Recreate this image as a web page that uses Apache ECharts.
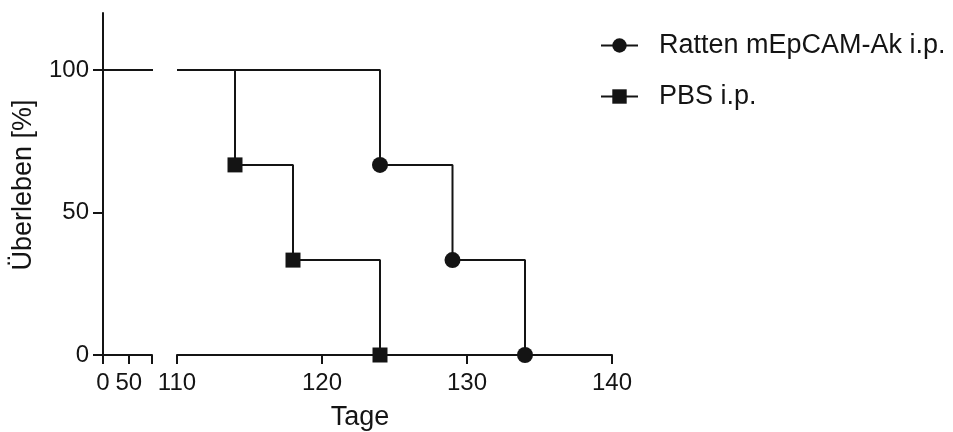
<!DOCTYPE html>
<html>
<head>
<meta charset="utf-8">
<script src="https://cdn.jsdelivr.net/npm/echarts@6/dist/echarts.min.js"></script>
<style>
  html, body { margin: 0; padding: 0; background: #fff; }
  #main { width: 953px; height: 432px; }
</style>
</head>
<body>
<div id="main"></div>
<script>
// Kaplan-Meier: Überleben [%] über Tage, x-Achse unterbrochen
var names = ['Ratten mEpCAM-Ak i.p.', 'PBS i.p.'];
var ratDays = [124, 129, 134];
var ratSurv = [66.7, 33.3, 0];
var pbsDays = [114, 118, 124];
var pbsSurv = [66.7, 33.3, 0];
var startDay = 110;
var leftRange = [0, 95];
var rightRange = [110, 140];
var yTicks = [0, 50, 100];
var xTicksLeft = [0, 50];
var xTicksRight = [110, 120, 130, 140];

var font = 'Liberation Sans';
var ink = '#141414';

function steps(days, surv) {
    var d = [{ value: [startDay, 100], symbol: 'none' }];
    for (var i = 0; i < days.length; i++) d.push([days[i], surv[i]]);
    return d;
}

var myChart = echarts.init(document.getElementById('main'));

var yBase = {
    type: 'value', min: 0, max: 120,
    splitLine: { show: false }
};

option = {
    animation: false,
    textStyle: { fontFamily: font, color: ink },
    grid: [
        { left: 103, top: 13, width: 49, bottom: 77 },
        { left: 177, top: 13, right: 341, bottom: 77 }
    ],
    xAxis: [
        {
            gridIndex: 0, type: 'value', min: leftRange[0], max: leftRange[1],
            axisLine: { lineStyle: { color: ink, width: 2 } },
            axisTick: { length: 9, lineStyle: { width: 2 }, customValues: xTicksLeft.concat([leftRange[1]]) },
            axisLabel: { customValues: xTicksLeft, fontSize: 24, color: ink, margin: 16 },
            splitLine: { show: false }
        },
        {
            gridIndex: 1, type: 'value', min: rightRange[0], max: rightRange[1],
            axisLine: { lineStyle: { color: ink, width: 2 } },
            axisTick: { length: 9, lineStyle: { width: 2 }, customValues: xTicksRight },
            axisLabel: { customValues: xTicksRight, fontSize: 24, color: ink, margin: 16 },
            splitLine: { show: false }
        }
    ],
    yAxis: [
        Object.assign({}, yBase, {
            gridIndex: 0,
            axisLine: { show: true, lineStyle: { color: ink, width: 2 } },
            axisTick: { show: true, length: 10, lineStyle: { width: 2 }, customValues: yTicks },
            axisLabel: { customValues: yTicks, fontSize: 24, color: ink, margin: 14 }
        }),
        Object.assign({}, yBase, {
            gridIndex: 1, show: false
        })
    ],
    legend: {
        orient: 'vertical',
        left: 595, top: 27,
        itemWidth: 37, itemHeight: 18,
        itemGap: 24,
        data: names,
        textStyle: { fontSize: 27, color: ink, fontFamily: font, padding: [0, 0, 0, 16] }
    },
    graphic: [
        {
            type: 'text', x: 360, y: 418,
            style: { text: 'Tage', font: '27px ' + font, fill: ink, align: 'center', verticalAlign: 'middle' }
        },
        {
            type: 'text', x: 24, y: 185, rotation: Math.PI / 2,
            style: { text: 'Überleben [%]', font: '27px ' + font, fill: ink, align: 'center', verticalAlign: 'middle' }
        }
    ],
    series: [
        {
            name: 'start', type: 'line', xAxisIndex: 0, yAxisIndex: 0,
            showSymbol: false, symbol: 'none',
            lineStyle: { color: ink, width: 2 },
            data: [[leftRange[0], 100], [leftRange[1] + 6, 100]],
            clip: false
        },
        {
            name: names[0], type: 'line', xAxisIndex: 1, yAxisIndex: 1,
            step: 'end', symbol: 'circle', symbolSize: 16,
            itemStyle: { color: ink },
            lineStyle: { color: ink, width: 2 },
            data: steps(ratDays, ratSurv),
            clip: false
        },
        {
            name: names[1], type: 'line', xAxisIndex: 1, yAxisIndex: 1,
            step: 'end', symbol: 'rect', symbolSize: 15,
            itemStyle: { color: ink },
            lineStyle: { color: ink, width: 2 },
            data: steps(pbsDays, pbsSurv),
            clip: false, z: 3
        }
    ]
};

myChart.setOption(option);
</script>
</body>
</html>
